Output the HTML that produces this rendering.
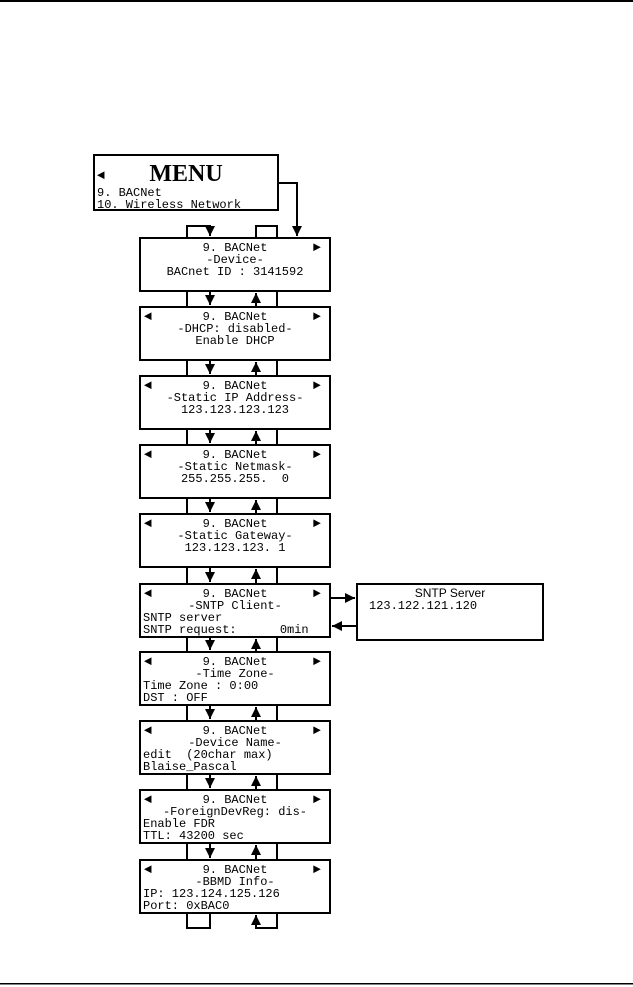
<!DOCTYPE html>
<html><head><meta charset="utf-8"><style>
html,body{margin:0;padding:0;background:#fff}
svg{display:block}
text{font-family:"Liberation Mono",monospace;font-size:12px;fill:#000}
.c{text-anchor:middle}
.s{font-family:"Liberation Sans",sans-serif;font-size:12px}
.t{font-size:13px}
</style></head><body>
<svg width="633" height="987" viewBox="0 0 633 987" xmlns="http://www.w3.org/2000/svg">
<defs>
<marker id="a" viewBox="0 0 10 10" refX="10" refY="5" markerWidth="5" markerHeight="5" orient="auto-start-reverse"><path d="M0,0L10,5L0,10z" fill="#000"/></marker>
</defs>
<rect x="0" y="0" width="633" height="2" fill="#000"/>
<rect x="0" y="983" width="633" height="1.5" fill="#000"/>
<g fill="none" stroke="#000" stroke-width="2">
<rect x="94" y="155" width="184" height="55" fill="#fff"/>
<polyline points="278,183 297,183 297,236" marker-end="url(#a)"/>
<polyline points="187,238 187,226 210,226 210,236" marker-end="url(#a)"/>
<polyline points="256,238 256,226 277,226 277,238"/>
<rect x="140" y="238" width="190" height="53"/>
<rect x="140" y="307" width="190" height="53"/>
<rect x="140" y="376" width="190" height="53"/>
<rect x="140" y="445" width="190" height="53"/>
<rect x="140" y="514" width="190" height="53"/>
<rect x="140" y="584" width="190" height="53"/>
<rect x="140" y="652" width="190" height="53"/>
<rect x="140" y="721" width="190" height="53"/>
<rect x="140" y="790" width="190" height="53"/>
<rect x="140" y="860" width="190" height="53"/>
<rect x="357" y="584" width="186" height="56"/>
<line x1="330" y1="598" x2="355" y2="598" marker-end="url(#a)"/>
<line x1="357" y1="626" x2="332" y2="626" marker-end="url(#a)"/>
<path d="M187,291V307M277,291V307M187,360V376M277,360V376M187,429V445M277,429V445M187,498V514M277,498V514M187,567V584M277,567V584M187,637V652M277,637V652M187,705V721M277,705V721M187,774V790M277,774V790M187,843V860M277,843V860"/>
<path d="M210,291V305" marker-end="url(#a)"/><path d="M256,307V293" marker-end="url(#a)"/>
<path d="M210,360V374" marker-end="url(#a)"/><path d="M256,376V362" marker-end="url(#a)"/>
<path d="M210,429V443" marker-end="url(#a)"/><path d="M256,445V431" marker-end="url(#a)"/>
<path d="M210,498V512" marker-end="url(#a)"/><path d="M256,514V500" marker-end="url(#a)"/>
<path d="M210,567V582" marker-end="url(#a)"/><path d="M256,584V569" marker-end="url(#a)"/>
<path d="M210,637V650" marker-end="url(#a)"/><path d="M256,652V639" marker-end="url(#a)"/>
<path d="M210,705V719" marker-end="url(#a)"/><path d="M256,721V707" marker-end="url(#a)"/>
<path d="M210,774V788" marker-end="url(#a)"/><path d="M256,790V776" marker-end="url(#a)"/>
<path d="M210,843V858" marker-end="url(#a)"/><path d="M256,860V845" marker-end="url(#a)"/>
<polyline points="187,913 187,928 210,928 210,913"/>
<polyline points="277,913 277,928 256,928 256,915" marker-end="url(#a)"/>
</g>
<text x="97" y="179" class="t">◄</text>
<text x="186" y="181" class="c" style="font-family:'Liberation Serif',serif;font-weight:bold;font-size:24px">MENU</text>
<text x="97" y="196">9. BACNet</text>
<text x="97" y="208">10. Wireless Network</text>
<text x="313" y="251" class="t">►</text>
<text x="235" y="251" class="c">9. BACNet</text>
<text x="235" y="263" class="c">-Device-</text>
<text x="235" y="275" class="c">BACnet ID : 3141592</text>
<g>
<text x="144" y="320" class="t">◄</text><text x="313" y="320" class="t">►</text>
<text x="144" y="389" class="t">◄</text><text x="313" y="389" class="t">►</text>
<text x="144" y="458" class="t">◄</text><text x="313" y="458" class="t">►</text>
<text x="144" y="527" class="t">◄</text><text x="313" y="527" class="t">►</text>
<text x="144" y="597" class="t">◄</text><text x="313" y="597" class="t">►</text>
<text x="144" y="665" class="t">◄</text><text x="313" y="665" class="t">►</text>
<text x="144" y="734" class="t">◄</text><text x="313" y="734" class="t">►</text>
<text x="144" y="803" class="t">◄</text><text x="313" y="803" class="t">►</text>
<text x="144" y="873" class="t">◄</text><text x="313" y="873" class="t">►</text>
</g>
<text x="235" y="320" class="c">9. BACNet</text>
<text x="235" y="332" class="c">-DHCP: disabled-</text>
<text x="235" y="344" class="c">Enable DHCP</text>
<text x="235" y="389" class="c">9. BACNet</text>
<text x="235" y="401" class="c">-Static IP Address-</text>
<text x="235" y="413" class="c">123.123.123.123</text>
<text x="235" y="458" class="c">9. BACNet</text>
<text x="235" y="470" class="c">-Static Netmask-</text>
<text x="235" y="482" class="c" xml:space="preserve">255.255.255.  0</text>
<text x="235" y="527" class="c">9. BACNet</text>
<text x="235" y="539" class="c">-Static Gateway-</text>
<text x="235" y="551" class="c">123.123.123. 1</text>
<text x="235" y="597" class="c">9. BACNet</text>
<text x="235" y="609" class="c">-SNTP Client-</text>
<text x="143" y="621">SNTP server</text>
<text x="143" y="633" xml:space="preserve">SNTP request:      0min</text>
<text x="235" y="665" class="c">9. BACNet</text>
<text x="235" y="677" class="c">-Time Zone-</text>
<text x="143" y="689">Time Zone : 0:00</text>
<text x="143" y="701">DST : OFF</text>
<text x="235" y="734" class="c">9. BACNet</text>
<text x="235" y="746" class="c">-Device Name-</text>
<text x="143" y="758" xml:space="preserve">edit  (20char max)</text>
<text x="143" y="770">Blaise_Pascal</text>
<text x="235" y="803" class="c">9. BACNet</text>
<text x="235" y="815" class="c">-ForeignDevReg: dis-</text>
<text x="143" y="827">Enable FDR</text>
<text x="143" y="839">TTL: 43200 sec</text>
<text x="235" y="873" class="c">9. BACNet</text>
<text x="235" y="885" class="c">-BBMD Info-</text>
<text x="143" y="897">IP: 123.124.125.126</text>
<text x="143" y="909">Port: 0xBAC0</text>
<text x="450" y="597" class="c s">SNTP Server</text>
<text x="369" y="609">123.122.121.120</text>
</svg>
</body></html>
